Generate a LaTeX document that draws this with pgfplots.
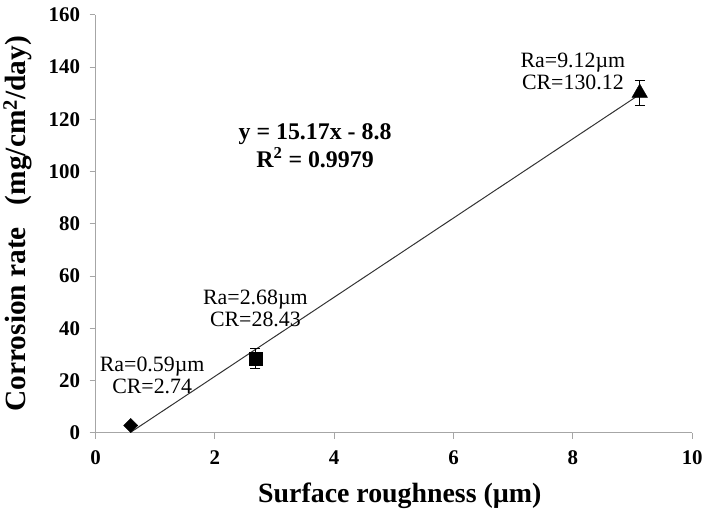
\documentclass[border=0pt]{standalone}
\usepackage{pgfplots}
\pgfplotsset{compat=1.18}
\usepackage{fontspec}
\setmainfont{Liberation Serif}
\begin{document}
\begin{tikzpicture}
\begin{axis}[
  scale only axis,
  width=600pt, height=420pt,
  xmin=0, xmax=10, ymin=0, ymax=160,
  xtick={0,2,...,10}, ytick={0,20,...,160},
  axis lines*=left,
  axis line style={gray!70, line width=0.9pt},
  tick style={gray!70, line width=0.9pt},
  tick align=outside,
  major tick length=6pt,
  /pgf/number format/assume math mode=true,
  ticklabel style={font=\fontsize{21}{24}\selectfont\bfseries},
  xticklabel style={yshift=-9pt},
  yticklabel style={xshift=-6pt},
  xlabel={Surface roughness (µm)},
  ylabel={Corrosion rate\ \ \ (mg/cm\textsuperscript{2}/day)},
  label style={font=\fontsize{28}{32}\selectfont\bfseries},
  xlabel style={at={(axis description cs:0.51,-0.1667)}, anchor=base},
  ylabel style={at={(axis description cs:-0.13,0.5)}, anchor=center, font=\fontsize{29.5}{32}\selectfont\bfseries},
  clip=false,
]
\path (rel axis cs:0,0) ++(-96pt,-76pt) (rel axis cs:1,1) ++(10pt,15pt);
\addplot[gray!40!black, line width=1pt, no marks] coordinates {(0.59,0.15) (9.12,129.55)};
\addplot[only marks, mark=square*, mark size=5pt, mark options={rotate=45}, black]
  coordinates {(0.59,2.74)};
\addplot[only marks, mark=square*, mark size=6.5pt, black, error bars/.cd, y dir=both, y explicit, error mark options={rotate=90, mark size=5pt, line width=0.9pt}, error bar style={line width=0.9pt}]
  coordinates {(2.68,28.43) +- (0,4.0)};
\addplot[only marks, mark=triangle*, mark size=9pt, black, error bars/.cd, y dir=both, y explicit, error mark options={rotate=90, mark size=5pt, line width=0.9pt}, error bar style={line width=0.9pt}]
  coordinates {(9.12,130.12) +- (0,4.8)};
\node[font=\fontsize{22}{22}\selectfont, align=center] at (axis cs:0.95,22.1) {Ra=0.59µm\\CR=2.74};
\node[font=\fontsize{22}{22}\selectfont, align=center] at (axis cs:2.68,47.6) {Ra=2.68µm\\CR=28.43};
\node[font=\fontsize{22}{22}\selectfont, align=center] at (axis cs:8.0,138.3) {Ra=9.12µm\\CR=130.12};
\node[font=\fontsize{24}{28}\selectfont\bfseries, align=center] at (axis cs:3.68,110) {y = 15.17x - 8.8\\R\textsuperscript{2} = 0.9979};
\end{axis}
\end{tikzpicture}
\end{document}
